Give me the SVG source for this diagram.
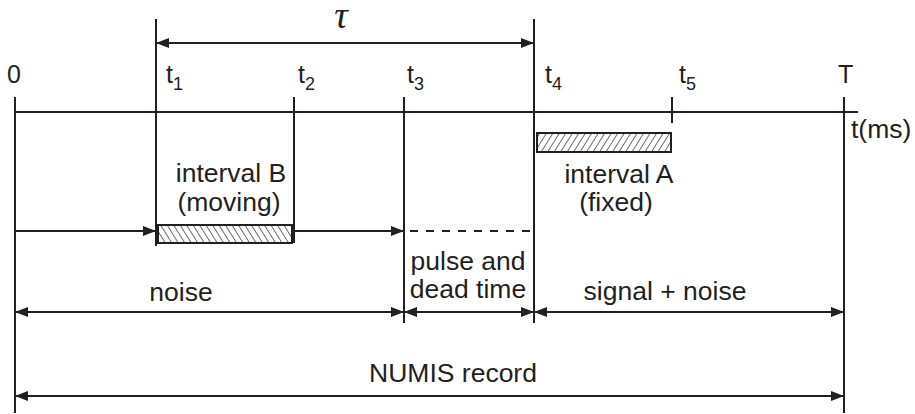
<svg xmlns="http://www.w3.org/2000/svg" width="915" height="414" viewBox="0 0 915 414">
<style>
.ln{stroke:#231f20;stroke-width:2;fill:none}
.tx{font-family:"Liberation Sans",Arial,sans-serif;font-size:26.5px;fill:#231f20}
.lb{font-size:25px}
.sub{font-size:18px}
.c{text-anchor:middle}
.box{stroke:#231f20;stroke-width:2}
</style>
<defs>
<marker id="ah" markerUnits="userSpaceOnUse" markerWidth="14" markerHeight="12" refX="13" refY="6" orient="auto-start-reverse">
<path d="M0,1 L13,6 L0,11 z" fill="#231f20"/>
</marker>
<pattern id="hatchB" patternUnits="userSpaceOnUse" width="5.5" height="6" patternTransform="rotate(-32)">
<line x1="0" y1="0" x2="0" y2="6" stroke="#231f20" stroke-width="1.3"/>
</pattern>
<pattern id="hatchA" patternUnits="userSpaceOnUse" width="5.5" height="6" patternTransform="rotate(32)">
<line x1="0" y1="0" x2="0" y2="6" stroke="#231f20" stroke-width="1.3"/>
</pattern>
</defs>
<rect width="915" height="414" fill="#fff"/>

<g id="axis">
<line class="ln" x1="15" y1="112" x2="858" y2="112"/>
<line class="ln" x1="15" y1="97" x2="15" y2="413"/>
<line class="ln" x1="156" y1="19" x2="156" y2="246"/>
<line class="ln" x1="294" y1="97" x2="294" y2="243"/>
<line class="ln" x1="404" y1="97" x2="404" y2="323"/>
<line class="ln" x1="534" y1="19" x2="534" y2="323"/>
<line class="ln" x1="672" y1="97" x2="672" y2="123"/>
<line class="ln" x1="844" y1="97" x2="844" y2="413"/>
<text class="tx lb" x="7" y="83">0</text>
<text class="tx lb" x="166" y="83">t<tspan class="sub" dy="7">1</tspan></text>
<text class="tx lb" x="298" y="83">t<tspan class="sub" dy="7">2</tspan></text>
<text class="tx lb" x="407" y="83">t<tspan class="sub" dy="7">3</tspan></text>
<text class="tx lb" x="545" y="83">t<tspan class="sub" dy="7">4</tspan></text>
<text class="tx lb" x="679" y="83">t<tspan class="sub" dy="7">5</tspan></text>
<text class="tx lb" x="838" y="83">T</text>
<text class="tx" x="851" y="138">t(ms)</text>
</g>

<g id="tau">
<text x="341" y="28" class="c" style="font-family:'Liberation Serif',serif;font-style:italic;font-size:38px;fill:#231f20">τ</text>
</g>

<g id="intervalB">
<rect class="box" x="158" y="225" width="134" height="18" fill="url(#hatchB)"/>
<text class="tx c" x="231" y="182">interval B</text>
<text class="tx c" x="229" y="211">(moving)</text>
</g>

<g id="intervalA">
<rect class="box" x="537" y="133" width="134" height="19" fill="url(#hatchA)"/>
<text class="tx c" x="619" y="183">interval A</text>
<text class="tx c" x="616" y="211">(fixed)</text>
</g>

<g id="labels">
<text class="tx c" x="468" y="270">pulse and</text>
<text class="tx c" x="468" y="298">dead time</text>
<text class="tx c" x="181" y="301">noise</text>
<text class="tx c" x="665" y="300">signal + noise</text>
<text class="tx c" x="453" y="382">NUMIS record</text>
</g>

<g id="connectors">
<line class="ln" x1="156" y1="43" x2="534" y2="43" marker-start="url(#ah)" marker-end="url(#ah)"/>
<line class="ln" x1="15" y1="231" x2="156" y2="231" marker-end="url(#ah)"/>
<line class="ln" x1="293" y1="231" x2="404" y2="231" marker-end="url(#ah)"/>
<line class="ln" x1="410" y1="231" x2="534" y2="231" stroke-dasharray="8,8"/>
<line class="ln" x1="15" y1="312" x2="404" y2="312" marker-start="url(#ah)" marker-end="url(#ah)"/>
<line class="ln" x1="404" y1="312" x2="534" y2="312" marker-start="url(#ah)" marker-end="url(#ah)"/>
<line class="ln" x1="534" y1="312" x2="844" y2="312" marker-start="url(#ah)" marker-end="url(#ah)"/>
<line class="ln" x1="15" y1="396" x2="844" y2="396" marker-start="url(#ah)" marker-end="url(#ah)"/>
</g>
</svg>
